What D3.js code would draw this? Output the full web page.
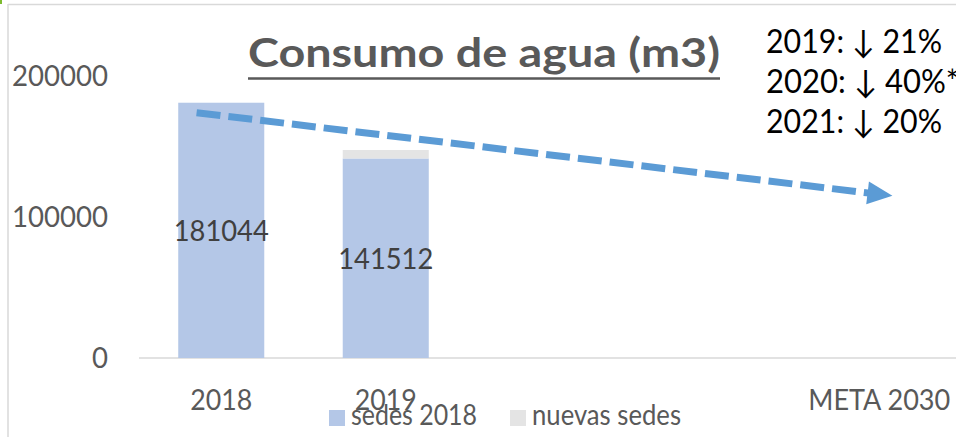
<!DOCTYPE html>
<html>
<head>
<meta charset="utf-8">
<script src="https://cdn.jsdelivr.net/npm/d3@7"></script>
<style>
  html, body { margin: 0; padding: 0; background: #fff; }
  svg { display: block; font-family: Lato, 'Open Sans', sans-serif; }
</style>
</head>
<body>
<svg id="chart" width="956" height="437"></svg>
<script>
// data
const categories = ['2018', '2019', '2020', '2021', 'META 2030']
const tickLabels = ['2018', '2019', '', '', 'META 2030']
const sedes2018 = [181044, 141512, null, null, null]
const nuevasSedes = [0, 6000, null, null, null]
const yTicks = [0, 100000, 200000]
const seriesNames = ['sedes 2018', 'nuevas sedes']
const notes = ['2019: \u2193 21%', '2020: \u2193 40%*', '2021: \u2193 20%']
// trend arrow: position in category units (0 = 2018) and value
const trendStart = { pos: -0.15, value: 174000 }
const trendEnd = { pos: 4.08, value: 115000 }

const colors = { sedes: '#B4C7E7', nuevas: '#E4E4E4', arrow: '#5B9BD5', axis: '#595959', grid: '#D9D9D9' }

const svg = d3.select('#chart')

const fit = (sel, w) => sel.attr('textLength', w).attr('lengthAdjust', 'spacingAndGlyphs')

// chart frame
svg.append('line').attr('x1', 8).attr('x2', 956).attr('y1', 4.5).attr('y2', 4.5)
  .attr('stroke', colors.grid).attr('stroke-width', 1.5)
svg.append('line').attr('x1', 8).attr('x2', 8).attr('y1', 4).attr('y2', 437)
  .attr('stroke', colors.grid).attr('stroke-width', 1.5)
svg.append('rect').attr('x', 0).attr('y', 0).attr('width', 2).attr('height', 4).attr('fill', '#7DBB2F')

const x = d3.scaleBand()
  .domain(categories)
  .range([139, 961.5])
  .paddingInner(0.477)
  .paddingOuter(0.2385)

const y = d3.scaleLinear()
  .domain([0, 200000])
  .range([358, 76])

// baseline
svg.append('line').attr('x1', 139).attr('x2', 956).attr('y1', y(0)).attr('y2', y(0))
  .attr('stroke', colors.grid).attr('stroke-width', 1.5)

// y tick labels
svg.append('g').selectAll('text')
  .data(yTicks)
  .enter().append('text')
  .attr('x', 108)
  .attr('y', d => y(d) + 10)
  .attr('text-anchor', 'end')
  .attr('fill', colors.axis)
  .attr('font-size', 28)
  .text(d => d)
  .each(function (d) { fit(d3.select(this), String(d).length * 16) })

// x tick labels
svg.append('g').selectAll('text')
  .data(categories)
  .enter().append('text')
  .attr('x', d => x(d) + x.bandwidth() / 2)
  .attr('y', 410)
  .attr('text-anchor', 'middle')
  .attr('fill', colors.axis)
  .attr('font-size', 28)
  .text((d, i) => tickLabels[i])
  .each(function (d, i) {
    if (tickLabels[i] === '2018' || tickLabels[i] === '2019') fit(d3.select(this), 62)
    if (tickLabels[i] === 'META 2030') fit(d3.select(this), 142)
  })

// stacked bars
const rows = categories.map((c, i) => ({ cat: c, sedes: sedes2018[i], nuevas: nuevasSedes[i] }))
  .filter(r => r.sedes != null)

svg.append('g').selectAll('rect')
  .data(rows)
  .enter().append('rect')
  .attr('x', d => x(d.cat))
  .attr('width', x.bandwidth())
  .attr('y', d => y(d.sedes))
  .attr('height', d => y(0) - y(d.sedes))
  .attr('fill', colors.sedes)

svg.append('g').selectAll('rect')
  .data(rows.filter(r => r.nuevas > 0))
  .enter().append('rect')
  .attr('x', d => x(d.cat))
  .attr('width', x.bandwidth())
  .attr('y', d => y(d.sedes + d.nuevas))
  .attr('height', d => y(d.sedes) - y(d.sedes + d.nuevas))
  .attr('fill', colors.nuevas)

// data labels
svg.append('g').selectAll('text')
  .data(rows)
  .enter().append('text')
  .attr('x', d => x(d.cat) + x.bandwidth() / 2)
  .attr('y', d => (y(0) + y(d.sedes)) / 2 + 11)
  .attr('text-anchor', 'middle')
  .attr('fill', '#404040')
  .attr('font-size', 29)
  .text(d => d.sedes)
  .each(function () { fit(d3.select(this), 95) })

// trend arrow
const xc = p => x(categories[0]) + x.bandwidth() / 2 + p * x.step()
const x0 = xc(trendStart.pos), y0 = y(trendStart.value)
const x1 = xc(trendEnd.pos), y1 = y(trendEnd.value)
const ang = Math.atan2(y1 - y0, x1 - x0)
const headLen = 25, headHalf = 11.5
const bx = x1 - headLen * Math.cos(ang), by = y1 - headLen * Math.sin(ang)

svg.append('line')
  .attr('x1', x0).attr('y1', y0)
  .attr('x2', bx + 2 * Math.cos(ang)).attr('y2', by + 2 * Math.sin(ang))
  .attr('stroke', colors.arrow)
  .attr('stroke-width', 7)
  .attr('stroke-dasharray', '24 8')

svg.append('path')
  .attr('d', d3.line()([
    [x1, y1],
    [bx - headHalf * Math.sin(ang), by + headHalf * Math.cos(ang)],
    [bx + headHalf * Math.sin(ang), by - headHalf * Math.cos(ang)]
  ]) + 'Z')
  .attr('fill', colors.arrow)

// title
const title = svg.append('text')
  .attr('x', 484)
  .attr('y', 67)
  .attr('text-anchor', 'middle')
  .attr('fill', '#595959')
  .attr('font-size', 41)
  .attr('font-weight', 'bold')
  .text('Consumo de agua (m3)')
fit(title, 472)
svg.append('line').attr('x1', 248).attr('x2', 720).attr('y1', 78.5).attr('y2', 78.5)
  .attr('stroke', '#595959').attr('stroke-width', 2.5)

// notes
svg.append('g').selectAll('text')
  .data(notes)
  .enter().append('text')
  .attr('x', 766)
  .attr('y', (d, i) => 53 + i * 40)
  .attr('fill', '#000')
  .attr('font-size', 32)
  .text(d => d)
  .each(function (d) { fit(d3.select(this), d.endsWith('*') ? 193 : 176) })

// legend
const legend = svg.append('g').selectAll('g')
  .data(seriesNames)
  .enter().append('g')
  .attr('transform', (d, i) => `translate(${[329, 510][i]}, 410)`)
legend.append('rect')
  .attr('width', 16).attr('height', 16)
  .attr('fill', (d, i) => i === 0 ? colors.sedes : colors.nuevas)
legend.append('text')
  .attr('x', 22)
  .attr('y', 15)
  .attr('fill', colors.axis)
  .attr('font-size', 29)
  .text(d => d)
  .each(function (d, i) { fit(d3.select(this), [126, 149][i]) })
</script>
</body>
</html>
